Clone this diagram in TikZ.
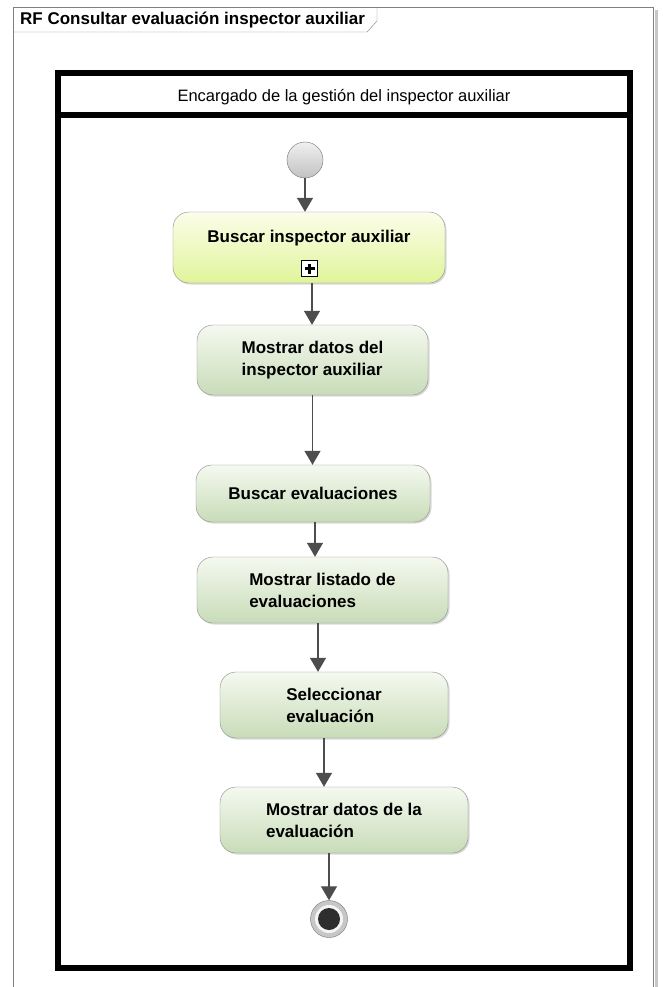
\documentclass[tikz,border=0pt]{standalone}
\usepackage{fontspec}
\setmainfont{Liberation Sans}
\usetikzlibrary{arrows.meta}
\usetikzlibrary{shadows}

\definecolor{framegray}{HTML}{808080}
\definecolor{actline}{HTML}{8A8A8A}
\definecolor{greentop}{HTML}{F5F9F0}
\definecolor{greenbot}{HTML}{C8DCB8}
\definecolor{yellowtop}{HTML}{FCFDEA}
\definecolor{yellowbot}{HTML}{E0F49A}
\definecolor{flowgray}{HTML}{4D4D4D}

\begin{document}
\begin{tikzpicture}[x=1pt, y=-1pt,
        act/.style={draw=actline, rounded corners=16pt, top color=greentop, bottom color=greenbot,
            drop shadow={shadow xshift=1.5pt, shadow yshift=-1.5pt, fill=black!30},
            font=\bfseries\fontsize{17}{22}\selectfont, align=left, inner sep=0pt},
        subact/.style={act, top color=yellowtop, bottom color=yellowbot},
        flow/.style={draw=flowgray, line width=1.3pt, -{Triangle[width=16pt,length=14pt]}},
        startnode/.style={circle, draw=black!55, top color=black!6, bottom color=black!24, minimum size=36pt, inner sep=0pt},
        endnode/.style={circle, draw=black!55, fill=black!22, minimum size=37pt, inner sep=0pt,
            path picture={
                \fill[black!4] (path picture bounding box.center) circle (14pt);
                \fill[black!82] (path picture bounding box.center) circle (11pt);}},
        subicon/.style={draw=black, line width=1pt, fill=white, minimum size=16pt, inner sep=0pt,
            path picture={
                \draw[line width=2.6pt] ([xshift=-5pt]path picture bounding box.center) -- ([xshift=5pt]path picture bounding box.center);
                \draw[line width=2.6pt] ([yshift=-5pt]path picture bounding box.center) -- ([yshift=5pt]path picture bounding box.center);}}]
    \useasboundingbox (0,0) rectangle (663,987);

    % frame
    \draw[black!22, line width=3pt] (656,10) -- (656,987);
    \draw[framegray] (13,987) -- (13,7) -- (653,7) -- (653,987);
    \draw[framegray] (13,32) -- (367,32) -- (377,21) -- (377,7);
    \node[anchor=base west, inner sep=0pt, font=\bfseries\fontsize{17}{20}\selectfont] (title) at (20,25) {RF Consultar evaluación inspector auxiliar};

    % lane
    \draw[line width=6pt] (58,73) rectangle (630,968);
    \draw[line width=6pt] (58,115) -- (630,115);
    \node[anchor=base, inner sep=0pt, font=\fontsize{16.5}{20}\selectfont] (lanehead) at (344,101.5) {Encargado de la gestión del inspector auxiliar};

    % activities
    \node[startnode] (ini) at (305,160) {};
    \node[subact, align=center, minimum width=272pt, minimum height=71pt, text depth=22pt] (bia) at (309,247.5) {Buscar inspector auxiliar};
    \node[subicon] (biasub) at (309.5,268.5) {};
    \node[act, minimum width=231pt, minimum height=70pt] (mdi) at (312.5,360) {Mostrar datos del\\inspector auxiliar};
    \node[act, minimum width=234pt, minimum height=57pt] (bev) at (313,493.5) {Buscar evaluaciones};
    \node[act, minimum width=251pt, minimum height=66pt] (mle) at (322.5,590) {Mostrar listado de\\evaluaciones};
    \node[act, minimum width=228pt, minimum height=66pt] (sev) at (334,705) {Seleccionar\\evaluación};
    \node[act, minimum width=248pt, minimum height=66pt] (mde) at (344,820) {Mostrar datos de la\\evaluación};
    \node[endnode] (fin) at (329,919) {};

    % flows
    \draw[flow] (ini) -- (ini |- bia.north);
    \draw[flow] ([xshift=3pt]bia.south) -- ([xshift=3pt]bia.south |- mdi.north);
    \draw[flow] (mdi.south) -- (mdi.south |- bev.north);
    \draw[flow] ([xshift=2pt]bev.south) -- ([xshift=2pt]bev.south |- mle.north);
    \draw[flow] ([xshift=-4.5pt]mle.south) -- ([xshift=-4.5pt]mle.south |- sev.north);
    \draw[flow] ([xshift=-10pt]sev.south) -- ([xshift=-10pt]sev.south |- mde.north);
    \draw[flow] (mde.south -| fin) -- (fin);
\end{tikzpicture}
\end{document}
